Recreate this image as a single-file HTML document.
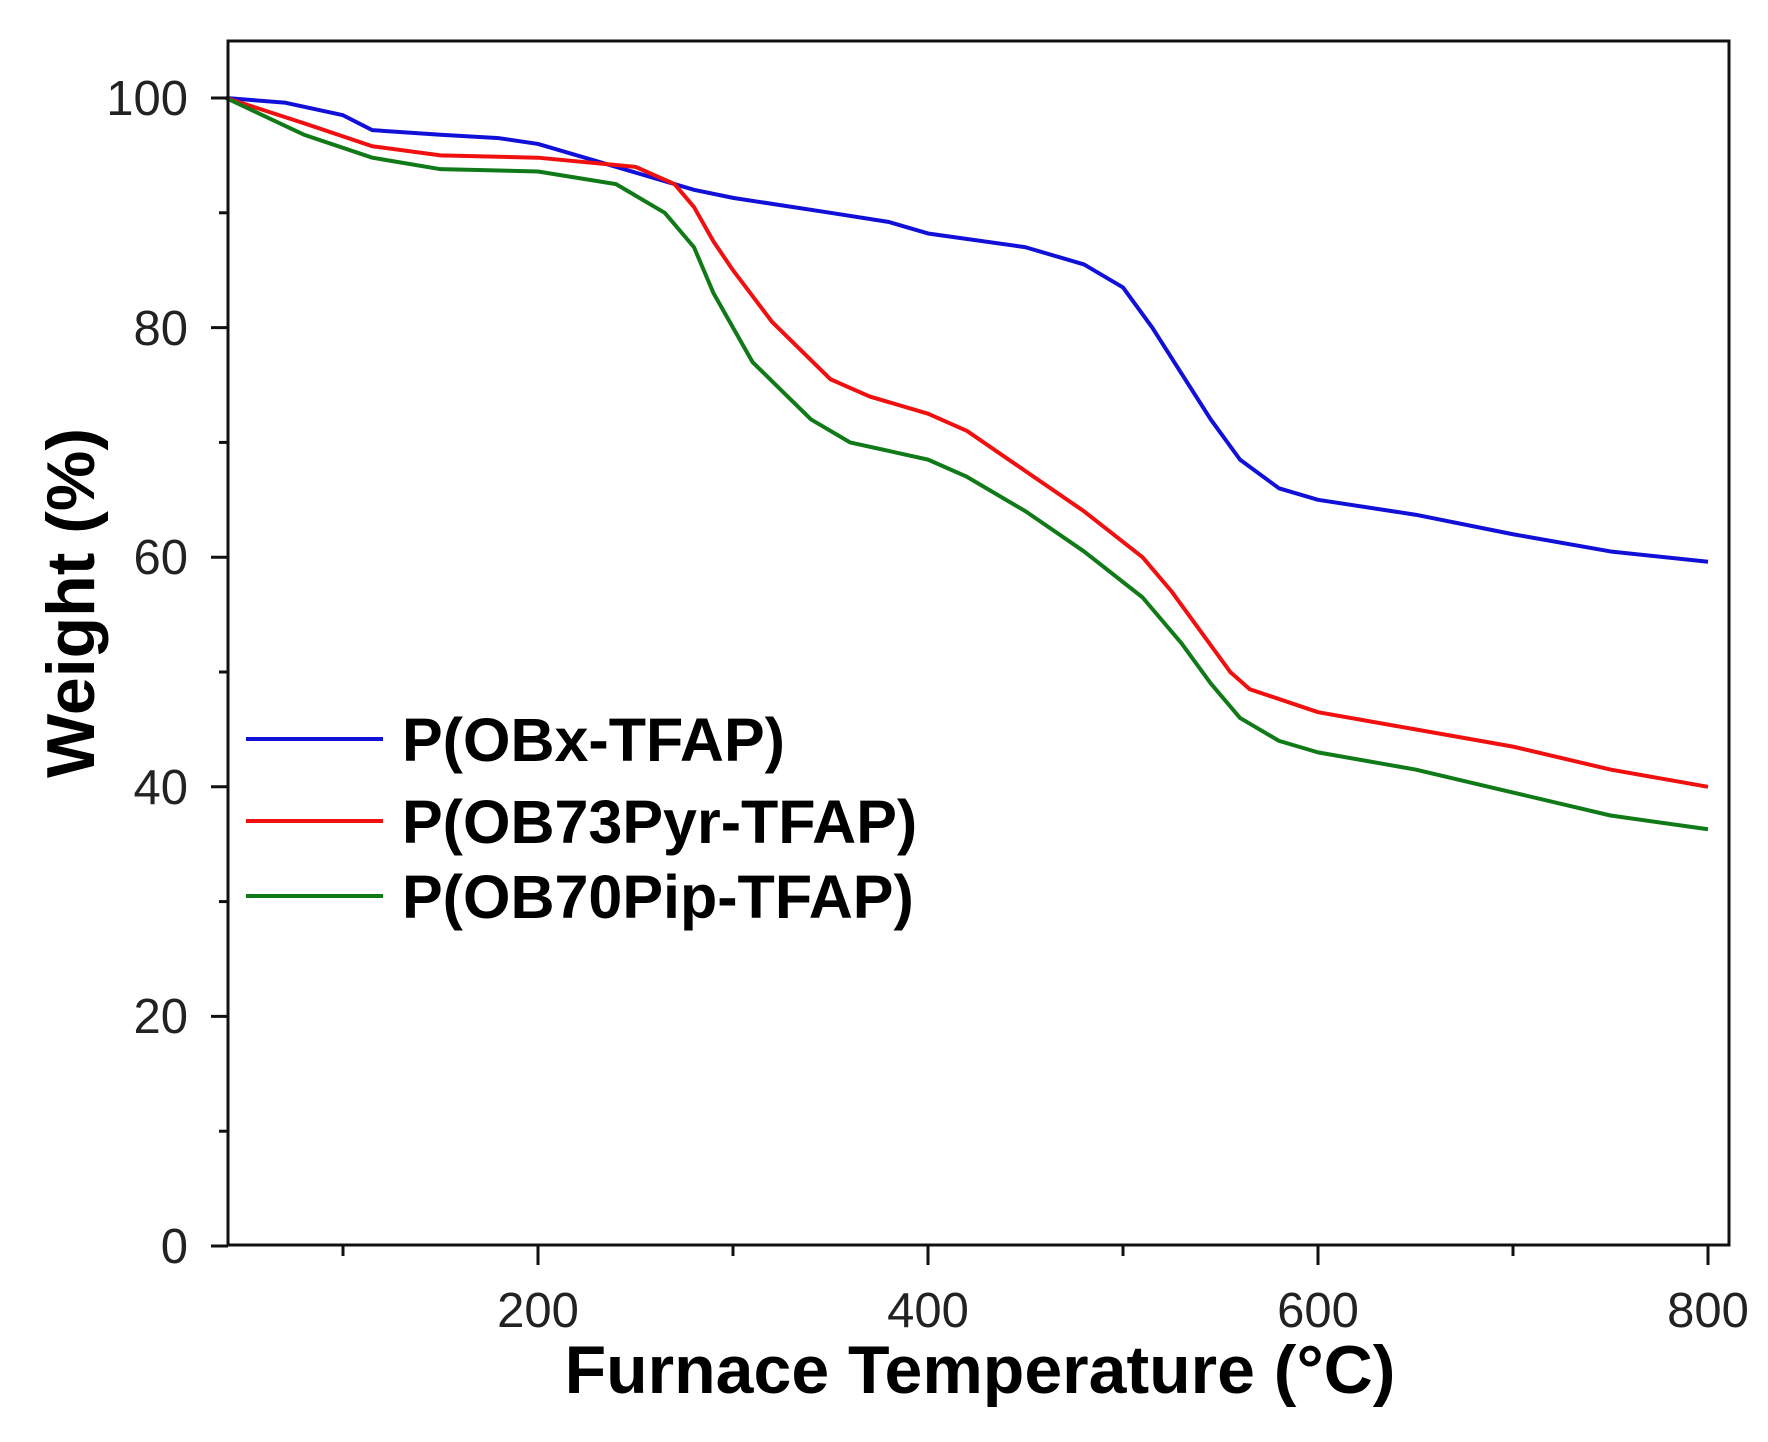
<!DOCTYPE html>
<html><head><meta charset="utf-8"><style>
body{margin:0;background:#fff}
svg{display:block}
</style></head><body>
<svg width="1768" height="1442" viewBox="0 0 1768 1442" xmlns="http://www.w3.org/2000/svg">
<rect width="1768" height="1442" fill="#fff"/>
<g transform="translate(148 1246) scale(1.95 -11.48)" fill="none" stroke-width="4" stroke-linejoin="round">
<polyline vector-effect="non-scaling-stroke" stroke="#1010d8" points="40,100 70,99.6 100,98.5 115,97.2 150,96.8 180,96.5 200,96 250,93.5 280,92 300,91.3 350,90 380,89.2 400,88.2 450,87 480,85.5 500,83.5 515,80 530,76 545,72 560,68.5 580,66 600,65 650,63.7 700,62 750,60.5 800,59.6"/>
<polyline vector-effect="non-scaling-stroke" stroke="#f01010" points="40,100 80,97.8 115,95.8 150,95 200,94.8 250,94 270,92.5 280,90.5 290,87.5 300,85 320,80.5 350,75.5 370,74 400,72.5 420,71 450,67.5 480,64 510,60 525,57 540,53.5 555,50 565,48.5 600,46.5 650,45 700,43.5 750,41.5 800,40"/>
<polyline vector-effect="non-scaling-stroke" stroke="#107a18" points="40,100 80,96.8 115,94.8 150,93.8 200,93.6 240,92.5 265,90 280,87 290,83 300,80 310,77 340,72 360,70 400,68.5 420,67 450,64 480,60.5 510,56.5 530,52.5 545,49 560,46 580,44 600,43 650,41.5 700,39.5 750,37.5 800,36.3"/>
</g>
<rect x="228" y="41" width="1501" height="1204" fill="none" stroke="#111" stroke-width="3"/>
<g stroke="#111" stroke-width="3">
<line x1="211" y1="1246" x2="228" y2="1246"/>
<line x1="211" y1="1016.4" x2="228" y2="1016.4"/>
<line x1="211" y1="786.8" x2="228" y2="786.8"/>
<line x1="211" y1="557.2" x2="228" y2="557.2"/>
<line x1="211" y1="327.6" x2="228" y2="327.6"/>
<line x1="211" y1="98" x2="228" y2="98"/>
<line x1="219" y1="1131.2" x2="228" y2="1131.2"/>
<line x1="219" y1="901.6" x2="228" y2="901.6"/>
<line x1="219" y1="672" x2="228" y2="672"/>
<line x1="219" y1="442.4" x2="228" y2="442.4"/>
<line x1="219" y1="212.8" x2="228" y2="212.8"/>
<line x1="538" y1="1245" x2="538" y2="1265"/>
<line x1="928" y1="1245" x2="928" y2="1265"/>
<line x1="1318" y1="1245" x2="1318" y2="1265"/>
<line x1="1708" y1="1245" x2="1708" y2="1265"/>
<line x1="343" y1="1245" x2="343" y2="1256"/>
<line x1="733" y1="1245" x2="733" y2="1256"/>
<line x1="1123" y1="1245" x2="1123" y2="1256"/>
<line x1="1513" y1="1245" x2="1513" y2="1256"/>
</g>
<g font-family="Liberation Sans, Arial, sans-serif" font-size="49" fill="#222" text-anchor="end">
<text x="188" y="1263">0</text>
<text x="188" y="1033">20</text>
<text x="188" y="804">40</text>
<text x="188" y="574">60</text>
<text x="188" y="345">80</text>
<text x="188" y="115">100</text>
</g>
<g font-family="Liberation Sans, Arial, sans-serif" font-size="49" fill="#222" text-anchor="middle">
<text x="538" y="1327">200</text>
<text x="928" y="1327">400</text>
<text x="1318" y="1327">600</text>
<text x="1708" y="1327">800</text>
</g>
<text x="980" y="1393" font-family="Liberation Sans, Arial, sans-serif" font-weight="bold" font-size="68" text-anchor="middle" fill="#000">Furnace Temperature (°C)</text>
<text transform="translate(94 603) rotate(-90)" font-family="Liberation Sans, Arial, sans-serif" font-weight="bold" font-size="68" text-anchor="middle" fill="#000">Weight (%)</text>
<g stroke-width="4">
<line x1="246" y1="739" x2="383" y2="739" stroke="#1010d8"/>
<line x1="246" y1="821" x2="383" y2="821" stroke="#f01010"/>
<line x1="246" y1="896" x2="383" y2="896" stroke="#107a18"/>
</g>
<g font-family="Liberation Sans, Arial, sans-serif" font-weight="bold" font-size="61" fill="#000">
<text x="402" y="761">P(OBx-TFAP)</text>
<text x="402" y="843">P(OB73Pyr-TFAP)</text>
<text x="402" y="918">P(OB70Pip-TFAP)</text>
</g>
</svg>
</body></html>
